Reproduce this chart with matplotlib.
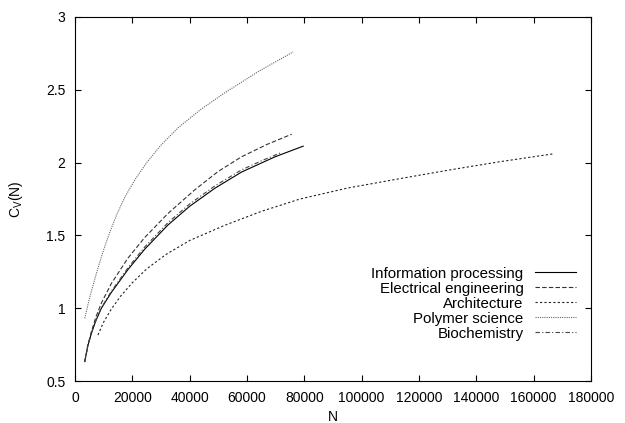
import numpy as np
import matplotlib as mpl
mpl.use('Agg')
import matplotlib.pyplot as plt

plt.rcParams['font.family'] = ['Liberation Sans', 'DejaVu Sans']
plt.rcParams['mathtext.default'] = 'regular'

# values
info_N = [3400, 4500, 5700, 7300, 9200, 12700, 18500, 24300, 32400, 40000,
          48800, 58100, 69800, 79600]
info_C = [0.633, 0.743, 0.827, 0.915, 1.0, 1.109, 1.266, 1.405, 1.571, 1.700,
          1.824, 1.935, 2.040, 2.113]

elec_N = [3400, 4500, 5700, 7300, 9300, 12700, 18500, 24300, 32400, 41900,
          50000, 58100, 67000, 75600]
elec_C = [0.633, 0.748, 0.838, 0.94, 1.04, 1.17, 1.345, 1.485, 1.65, 1.815,
          1.94, 2.04, 2.125, 2.195]

arch_N = [8000, 10000, 12700, 16000, 20000, 25000, 31800, 40000, 52300, 65000,
          78500, 95000, 113400, 130800, 148200, 166800]
arch_C = [0.816, 0.905, 0.995, 1.085, 1.175, 1.27, 1.37, 1.465, 1.57, 1.665,
          1.75, 1.825, 1.89, 1.95, 2.006, 2.06]

poly_N = [3400, 5000, 6900, 8600, 10400, 12200, 14500, 17300, 21000, 25000,
          30000, 36000, 44200, 52300, 63900, 76100]
poly_C = [0.93, 1.065, 1.20, 1.315, 1.425, 1.525, 1.64, 1.76, 1.885, 2.0,
          2.12, 2.24, 2.37, 2.48, 2.625, 2.76]

bio_N = [3400, 4500, 5700, 7300, 9200, 12700, 18500, 24300, 32400, 40000,
         48800, 58100, 65000, 72100]
bio_C = [0.633, 0.743, 0.827, 0.917, 1.004, 1.117, 1.278, 1.42, 1.587, 1.716,
         1.84, 1.95, 2.012, 2.07]

labels = ['Information processing', 'Electrical engineering', 'Architecture',
          'Polymer science', 'Biochemistry']

fig = plt.figure(figsize=(6.25, 4.23), dpi=100)
ax = fig.add_axes([75 / 625, 1 - 381 / 423, 516 / 625, 364 / 423])

lw = 0.8
styles = [
    dict(color='black', linestyle='-'),
    dict(color='#333333', linestyle=(0, (4, 2))),
    dict(color='#222222', linestyle=(0, (2, 2))),
    dict(color='#666666', linestyle=(0, (1, 1))),
    dict(color='#444444', linestyle=(0, (4, 2, 1, 2))),
]
series = [(info_N, info_C), (elec_N, elec_C), (arch_N, arch_C),
          (poly_N, poly_C), (bio_N, bio_C)]

for (xs, ys), st, lab in zip(series, styles, labels):
    ax.plot(xs, ys, lw=lw, label=lab, **st)

ax.set_xlim(0, 180000)
ax.set_ylim(0.5, 3)
ax.set_xticks(np.arange(0, 180001, 20000))
ax.set_yticks(np.arange(0.5, 3.01, 0.5))
ax.set_yticklabels(['0.5', '1', '1.5', '2', '2.5', '3'])
ax.tick_params(direction='in', top=True, right=True, length=4, width=0.8,
               labelsize=10, pad=7)
for s in ax.spines.values():
    s.set_linewidth(0.8)

ax.set_xlabel('N', fontsize=10, labelpad=4)
ax.set_ylabel('$C_V$(N)', fontsize=10, labelpad=15)

ax.legend(loc='lower right', bbox_to_anchor=(0.985, 0.09), frameon=False,
          markerfirst=False, handlelength=2.75, fontsize=10.8, labelspacing=0.07,
          handletextpad=0.73, borderpad=0)

fig.savefig('out.png', dpi=100)
